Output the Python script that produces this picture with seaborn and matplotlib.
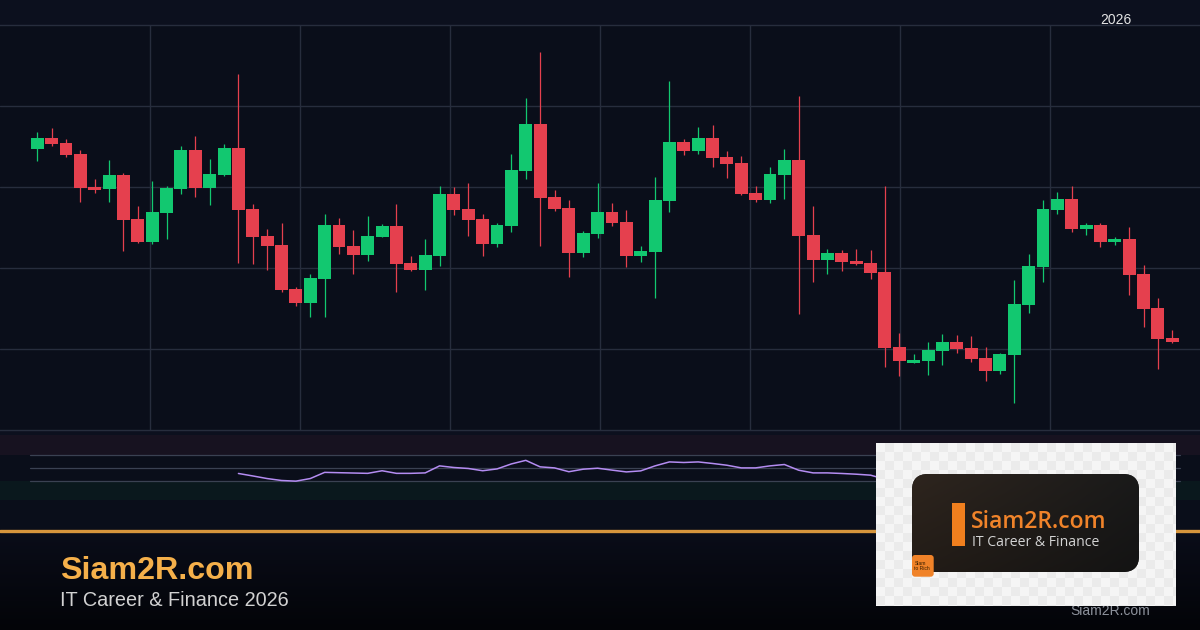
import numpy as np
import pandas as pd
import matplotlib
matplotlib.use("Agg")
import matplotlib.pyplot as plt
from matplotlib.patches import FancyBboxPatch, Rectangle
from matplotlib.colors import to_rgb
import seaborn as sns

# %%
# dados das velas (open, high, low, close)
opens = [451, 462, 457, 445.7, 413, 411.3, 424.7, 381, 358, 387.3,
         411.3, 450, 412.3, 425, 452, 391, 364, 355, 311, 297.3,
         321.3, 375, 354, 345, 363.3, 374, 337, 330, 344, 406,
         391, 381, 356, 374, 429, 476, 403, 392, 347, 366,
         388, 378, 344.3, 348, 399, 458, 449, 462, 443, 437,
         407, 400, 425, 440, 365.3, 340, 347, 339, 337, 328,
         253, 237, 239, 249, 258, 252, 242, 229, 245, 295,
         333, 390, 401, 371, 375, 358, 361, 326, 292, 262]
highs = [468, 471.7, 460.7, 450, 421, 440, 426.7, 394, 419, 413.7,
         454, 463.7, 441, 456, 526, 396, 371, 376.7, 313.3, 326,
         386, 381.7, 370, 384, 376, 396, 344, 361, 414, 413,
         416.7, 386, 377, 446, 502, 548, 410, 400, 369, 417,
         396.7, 390, 354, 423, 519, 461, 473, 475, 449, 444,
         414, 433, 451, 504, 394, 351, 350, 351, 350, 414,
         267, 246, 258, 266, 265, 264, 253, 247, 320, 346,
         400, 408, 414, 377, 377, 363, 373, 335, 302, 270]
lows = [439.3, 454.3, 443.3, 398.3, 407.3, 398.3, 349, 357.3, 356.3, 361.3,
        406.3, 402.7, 395.3, 424, 337.3, 336.3, 330.3, 308.3, 294, 283.3,
        283.3, 345.7, 326, 339.3, 363.3, 308, 329, 310, 334, 385.3,
        364, 344, 353, 368, 421, 354, 389, 323, 343, 362,
        374.3, 333.3, 338, 302, 388, 445, 446, 433, 422, 405,
        398, 397, 401, 286, 318, 326, 329, 335, 321, 233.3,
        224, 237, 225, 235, 247, 238, 219, 226, 197, 287,
        318, 386, 368, 365, 353, 355, 305, 273, 231, 257]
closes = [462, 456.3, 445, 412.3, 410.3, 424.7, 380, 358, 388, 412,
          450, 412.3, 425.7, 452, 390, 363.3, 354.3, 310, 297.3, 322,
          375, 353.3, 345, 364, 374, 336, 330, 345, 406, 390,
          380, 356, 375, 430, 476, 402, 391, 347, 367, 388,
          377.3, 344.3, 349, 400, 458, 449, 462, 442, 436, 406,
          400, 426, 440, 364.3, 340, 347, 338, 336, 327, 252.3,
          239, 240, 250, 258, 251, 241, 229, 246, 296, 334,
          391, 401, 371, 375, 358, 361, 325, 291, 261, 258]

# RSI (14) a partir da vela 14
rsi_start = 14
rsi_values = [40.8, 37, 33, 30, 29, 33, 42.5, 42, 41.5, 41,
              45, 41, 41, 41.7, 52.5, 50, 48.5, 45, 47.8, 55.5,
              61, 51, 49.4, 43.5, 47.4, 48.9, 46, 43.2, 44.8, 52.5,
              58.6, 57.7, 58.6, 56.2, 53.5, 49.4, 49.4, 52.5, 54.6, 45.8,
              41.7, 41.7, 40.8, 39.7, 38.2, 32, 30, 31, 33, 35,
              34, 33, 31, 33, 42, 50, 58, 59, 54, 54,
              52, 52, 45, 40, 36, 36]

df = pd.DataFrame({"open": opens, "high": highs, "low": lows, "close": closes})
df["idx"] = np.arange(len(df))
df_rsi = pd.DataFrame({"idx": np.arange(rsi_start, rsi_start + len(rsi_values)),
                       "rsi": rsi_values})

# %%
# cores
bg = "#0a0e1a"
grid_c = "#272d3d"
green = "#12c870"
red = "#e5404e"

sns.set_theme(style="dark", rc={"axes.facecolor": bg, "figure.facecolor": "#0c101e"})
plt.rcParams["font.family"] = ["Liberation Sans", "DejaVu Sans"]

W, H = 1200, 630
fig = plt.figure(figsize=(12, 6.3), dpi=100)

xlim = (-2.596, 80.93)
xgrid = np.linspace(xlim[0], xlim[1], 9)[1:-1]

# Grafico principal: velas
ax = fig.add_axes([0, 1 - 430 / H, 1, 405 / H])
ax.set_facecolor(bg)
cols = [green if c >= o else red for o, c in zip(df["open"], df["close"])]
ax.vlines(df["idx"], df["low"], df["high"], colors=cols, linewidth=0.9, zorder=3)
body_bottom = np.minimum(df["open"], df["close"])
body_h = np.maximum(np.abs(df["close"] - df["open"]), 1.2)
ax.bar(df["idx"], body_h, bottom=body_bottom, width=0.9, color=cols,
       linewidth=0, zorder=4)
ax.set_xlim(*xlim)
ax.set_ylim(170, 575)
ax.set_xticks(xgrid)
ax.set_yticks([251, 332, 413, 494])
ax.set_xticklabels([])
ax.set_yticklabels([])
ax.tick_params(length=0)
ax.grid(True, color=grid_c, linewidth=1.0, zorder=0)
for s in ["left", "right"]:
    ax.spines[s].set_visible(False)
for s in ["top", "bottom"]:
    ax.spines[s].set_color(grid_c)
    ax.spines[s].set_linewidth(1.0)

# Painel RSI
ax2 = fig.add_axes([0, 1 - 500 / H, 1, 65 / H])
ax2.set_facecolor(bg)
ax2.axhspan(70, 100, color="#171220", linewidth=0, zorder=0)
ax2.axhspan(0, 30, color="#0a181d", linewidth=0, zorder=0)
for lvl in [70, 50, 30]:
    ax2.axhline(lvl, xmin=30 / W, xmax=1180 / W, color="#3a4152", linewidth=0.9, zorder=1)
sns.lineplot(data=df_rsi, x="idx", y="rsi", ax=ax2, color="#b48cf2",
             linewidth=1.1, zorder=3)
ax2.set_xlim(*xlim)
ax2.set_ylim(0, 100)
ax2.set_xlabel("")
ax2.set_ylabel("")
ax2.set_xticks([])
ax2.set_yticks([])
for s in ax2.spines.values():
    s.set_visible(False)
ax2.grid(False)

# Rodape
ax3 = fig.add_axes([0, 0, 1, 130 / H])
ax3.set_xlim(0, W)
ax3.set_ylim(630, 500)
ax3.axis("off")
top_c = np.array(to_rgb("#0a0d19"))
bot_c = np.array(to_rgb("#030408"))
t = np.linspace(0, 1, 100)[:, None, None]
grad = top_c * (1 - t) + bot_c * t
grad = np.repeat(grad, 2, axis=1)
ax3.imshow(grad, extent=(0, W, 630, 531), aspect="auto", zorder=0)
ax3.add_patch(Rectangle((0, 500), W, 31, color=bg, linewidth=0, zorder=0))
ax3.axhline(531, color="#d6953c", linewidth=2.4, zorder=2)
ax3.text(60, 579, "Siam2R.com", color="#f5b04a", fontsize=23.2,
         fontweight="bold", va="baseline", ha="left", zorder=3)
ax3.text(60, 606.5, "IT Career & Finance 2026", color="#d2d2d2", fontsize=14.3,
         va="baseline", ha="left", zorder=3)
ax3.text(1110, 615.5, "Siam2R.com", color="#8d929c", fontsize=10,
         va="baseline", ha="center", zorder=3)

fig.text(1100 / W, 1 - 24 / H, "2026", color="#e4e4e4", fontsize=10,
         va="baseline", ha="left")

# Logo
ax4 = fig.add_axes([876 / W, 1 - 606 / H, 300 / W, 163 / H], zorder=5)
ax4.set_xlim(0, 300)
ax4.set_ylim(163, 0)
ax4.axis("off")
cell = 9
ny, nx = int(np.ceil(163 / cell)), int(np.ceil(300 / cell))
checker = (np.add.outer(np.arange(ny), np.arange(nx)) % 2).astype(float)
c1, c2 = np.array(to_rgb("#f5f5f5")), np.array(to_rgb("#ebebeb"))
checker_img = c1 * (1 - checker[..., None]) + c2 * checker[..., None]
ax4.imshow(checker_img, extent=(0, nx * cell, ny * cell, 0), aspect="auto",
           interpolation="nearest", zorder=0)
ax4.set_xlim(0, 300)
ax4.set_ylim(163, 0)

r = 16
card = FancyBboxPatch((36 + r, 31 + r), 227 - 2 * r, 98 - 2 * r,
                      boxstyle=f"round,pad={r}", facecolor="#1c1b1b",
                      edgecolor="none", zorder=1)
ax4.add_patch(card)
gx = np.linspace(0, 1, 120)[None, :, None]
gy = np.linspace(0, 1, 60)[:, None, None]
left_c, right_c = np.array(to_rgb("#2e251e")), np.array(to_rgb("#1a1a1a"))
card_img = left_c * (1 - gx) + right_c * gx
card_img = card_img * (1 - 0.25 * gy)
im = ax4.imshow(np.clip(card_img, 0, 1), extent=(36, 263, 129, 31),
                aspect="auto", zorder=2)
im.set_clip_path(card)

ax4.add_patch(Rectangle((76, 60), 12.7, 43, color="#f07f1e", linewidth=0, zorder=3))
ax4.text(94.5, 85.3, "Siam2R.com", color="#f0832a", fontsize=16.5,
         family=["Open Sans", "DejaVu Sans"], fontweight="semibold",
         va="baseline", ha="left", zorder=4)
ax4.text(96, 102.7, "IT Career & Finance", color="#d4d4d4", fontsize=10.1,
         family=["Open Sans", "DejaVu Sans"], va="baseline", ha="left", zorder=4)

sq = FancyBboxPatch((36 + 3, 112 + 3), 21.7 - 6, 21.7 - 6, boxstyle="round,pad=3",
                    facecolor="#f08228", edgecolor="none", zorder=5)
ax4.add_patch(sq)
ax4.text(38.5, 123, "Siam\nto Rich", color="#3a1e00", fontsize=3.6,
         va="center", ha="left", linespacing=1.1, zorder=6)

fig.savefig("out.png", dpi=100, facecolor=fig.get_facecolor())
